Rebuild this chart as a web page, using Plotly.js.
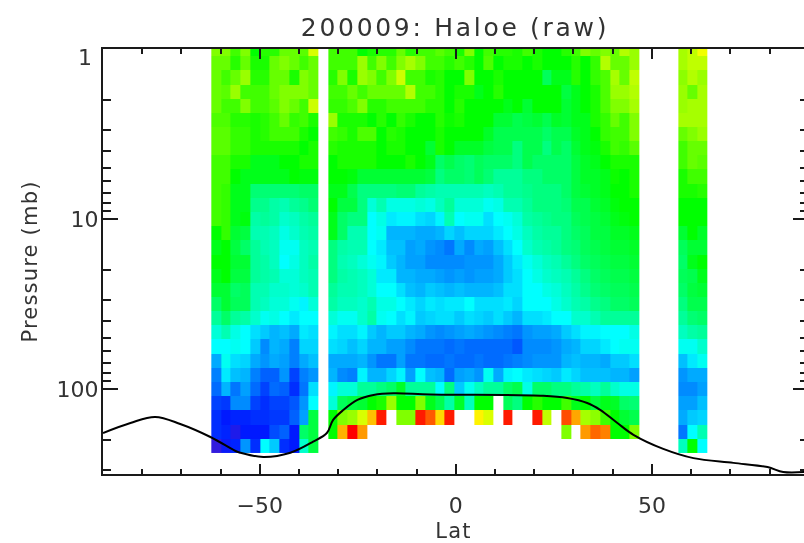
<!DOCTYPE html>
<html><head><meta charset="utf-8">
<script src="https://cdn.plot.ly/plotly-3.0.1.min.js"></script>
<style>html,body{margin:0;padding:0;background:#fff;overflow:hidden}#plot{width:804px;height:543px;filter:blur(0.55px)}
.gtitle{letter-spacing:2.7px}.xtitle,.ytitle{letter-spacing:1.2px}</style>
</head><body><div id="plot"></div>
<script>
// latitude of each column centre (degrees)
var lats = [-61.13,-58.65,-56.17,-53.69,-51.21,-48.73,-46.25,-43.77,-41.29,-38.81,-36.33,-33.85,-31.37,-28.89,-26.41,-23.93,-21.45,-18.97,-16.49,-14.01,-11.53,-9.05,-6.57,-4.09,-1.61,0.87,3.35,5.83,8.31,10.79,13.27,15.75,18.23,20.71,23.19,25.67,28.15,30.63,33.11,35.59,38.07,40.55,43.03,45.51,47.99,50.47,52.95,55.43,57.91,60.39,62.87];
// pressure level of each row (mb)
var levels = [1,1.21,1.47,1.78,2.15,2.61,3.16,3.83,4.64,5.62,6.81,8.25,10,12.1,14.7,17.8,21.5,26.1,31.6,38.3,46.4,56.2,68.1,82.5,100,121,147,178,215];
// colour value of each cell, south block (columns 0-10)
var south = [
[60,60,55,60,50,53,53,58,58,57,67],
[58,58,53,58,52,52,58,60,58,55,58],
[58,55,58,62,53,53,58,58,52,60,58],
[58,57,62,55,55,55,58,60,60,60,58],
[58,55,55,60,55,55,57,60,58,55,66],
[56,56,53,53,52,53,55,58,54,55,52],
[57,57,54,54,52,53,55,55,55,52,50],
[57,57,54,54,52,52,52,52,52,50,52],
[55,55,52,52,48,48,48,50,50,52,52],
[55,55,50,48,48,48,48,48,50,49,49],
[55,54,48,48,41,41,41,41,41,42,42],
[55,54,48,48,39,39,37,36,38,39,41],
[55,54,48,49,37,38,37,34,35,37,38],
[50,54,46,45,36,36,35,32,34,36,37],
[48,50,45,42,38,36,35,31,31,35,36],
[50,50,46,46,38,37,35,30,32,35,37],
[48,50,45,45,38,37,36,33,33,35,36],
[46,46,42,43,36,36,34,34,33,34,36],
[42,46,43,43,36,35,33,33,31,29,33],
[38,42,38,37,34,31,32,30,28,30,30],
[33,36,32,30,27,25,23,24,22,28,27],
[30,30,31,30,25,19,23,22,18,26,26],
[22,31,27,26,22,20,22,21,18,22,24],
[18,28,24,23,18,15,15,20,12,18,20],
[16,23,17,21,16,12,16,15,10,17,27],
[12,11,19,19,12,10,12,12,14,20,30],
[10,8,9,9,10,10,11,11,15,21,45],
[10,9,5,8,8,8,13,15,8,42,45],
[3,7,9,20,10,30,25,10,8,34,45]];
// tropics block, western half (columns 12-22)
var midWest = [
[55,55,55,50,52,53,53,58,53,55,55],
[55,55,55,62,55,60,55,60,63,60,55],
[53,60,52,62,60,55,60,66,55,55,52],
[55,55,58,55,58,58,58,58,64,55,55],
[54,54,56,60,53,53,55,55,55,55,53],
[62,52,52,52,50,53,50,54,52,50,50],
[55,54,52,56,56,50,53,52,50,50,50],
[53,52,52,52,52,50,52,52,50,50,46],
[50,52,52,52,52,50,50,50,52,50,48],
[50,50,49,46,46,46,46,46,46,46,45],
[48,48,44,40,40,40,40,41,41,38,37],
[50,45,45,40,33,36,32,32,32,33,32],
[48,42,40,40,30,32,28,29,29,27,26],
[48,42,36,36,30,31,23,23,23,22,22],
[40,37,36,36,30,28,24,24,21,22,20],
[40,36,35,33,31,29,25,23,21,21,19],
[40,37,36,35,33,28,28,23,23,22,22],
[38,36,36,35,33,30,30,27,24,23,25],
[37,35,35,34,36,32,32,30,28,26,28],
[33,31,31,34,37,31,30,27,29,25,26],
[29,27,27,29,25,23,25,25,23,22,20],
[27,26,24,26,23,23,21,21,19,17,17],
[22,22,22,23,20,17,17,21,17,17,16],
[23,19,18,29,23,23,26,29,21,30,24],
[29,33,33,38,38,40,42,47,38,38,38],
[33,43,45,46,50,52,62,50,50,60,48],
[50,60,62,67,75,88,null,60,60,88,83],
[50,76,90,78,null,null,null,null,null,null,null],
[null,null,null,null,null,null,null,null,null,null,null]];
// tropics block, eastern half (columns 23-43)
var midEast = [
[57,55,52,60,50,55,53,53,52,55,52,50,50,53,55,60,58,60,58,64,62],
[55,53,55,53,50,56,50,52,52,50,52,50,50,50,53,50,54,64,58,58,62],
[53,50,50,60,50,50,52,50,50,50,50,43,48,48,53,50,54,56,63,58,65],
[53,50,52,52,48,50,53,50,50,50,50,50,50,45,48,50,52,56,62,62,64],
[53,50,53,50,50,50,50,48,50,46,50,50,50,46,48,50,52,56,60,60,63],
[53,51,52,50,50,50,46,46,44,45,46,44,47,46,48,48,52,54,58,55,60],
[52,50,50,50,50,47,44,44,44,44,44,42,44,44,47,48,50,54,55,55,60],
[52,50,47,47,47,45,44,44,40,44,44,40,44,42,46,48,49,52,55,54,57],
[42,44,42,41,43,42,42,42,40,44,42,42,42,42,45,47,48,50,52,52,52],
[40,42,42,41,43,41,38,38,38,40,40,42,42,42,45,47,47,48,51,50,52],
[36,36,36,36,36,35,36,38,38,39,40,40,40,42,45,46,47,48,50,50,52],
[35,38,33,33,33,31,32,36,36,38,40,40,40,41,44,44,46,47,49,50,50],
[29,36,30,31,31,27,30,31,33,37,38,39,40,40,43,44,45,46,48,49,50],
[23,26,24,26,26,26,28,30,32,35,37,38,38,40,42,43,45,45,47,47,48],
[19,17,22,19,22,21,24,27,30,34,36,37,38,40,41,43,44,45,46,46,47],
[19,19,19,20,20,20,22,25,28,31,33,35,36,38,40,42,43,44,45,45,46],
[21,20,21,20,21,21,22,25,27,30,32,34,35,36,38,40,42,43,44,44,45],
[24,23,24,23,23,23,24,27,27,30,30,32,33,35,37,39,41,42,43,43,44],
[27,28,28,30,27,27,27,28,26,30,30,30,32,34,36,37,39,40,42,42,43],
[27,27,25,27,26,25,27,25,23,27,27,28,30,30,34,34,36,38,38,38,38],
[19,20,21,22,21,20,19,18,17,20,21,21,22,25,27,29,29,30,30,30,32],
[17,16,17,16,16,16,16,16,14,19,19,19,20,22,23,26,26,28,30,31,31],
[16,17,16,16,17,16,16,17,18,19,20,20,20,23,24,23,23,22,25,25,27],
[23,16,21,22,20,31,22,29,30,28,27,26,25,28,26,24,24,24,23,23,21],
[30,40,25,31,35,38,38,42,44,32,42,42,40,40,38,37,35,38,34,32,32],
[44,37,47,35,50,50,null,43,40,50,53,50,50,55,48,50,45,48,47,42,41],
[73,88,null,null,71,67,null,88,null,null,88,65,null,84,77,63,61,55,50,46,44],
[null,null,null,null,null,null,null,null,null,null,null,null,null,60,null,78,82,80,50,50,60],
[null,null,null,null,null,null,null,null,null,null,null,null,null,null,null,null,null,null,null,null,null]];
// north block (columns 48-50)
var north = [
[63,65,69],[63,65,65],[61,64,62],[62,58,63],[62,63,63],[63,63,63],[58,60,62],[55,58,58],[55,58,57],[52,55,55],
[52,52,53],[50,50,50],[50,50,50],[46,50,47],[43,46,46],[42,48,50],[43,44,48],[42,45,46],[40,44,44],[38,41,42],
[35,37,38],[31,31,34],[24,28,31],[20,22,22],[19,19,21],[21,21,24],[22,25,26],[17,30,36],[35,50,30]];
// surface / tropopause curve
var curveLat = [-90,-83,-76.7,-70.3,-62.6,-56.2,-55,-49.1,-42.2,-36.4,-32.9,-31.3,-28.7,-25.1,-21,-15.9,-6.5,22.3,28.4,33.5,36.9,41.2,45.3,52.9,60.6,70.8,79.5,83.5,88.9];
var curveP = [181.5,158.5,146,160.6,191.6,231.6,237,251,237,204,181.5,152,133,116,108.5,106,107.7,109.6,113,120.8,133,158.5,186,225,255,272,288,308,308];
var tickVals = [1,10,100];
var tickText = ['','10','100'];
var topLabel = '1';
var xTicks = [-50,0,50];
var titleText = '200009: Haloe (raw)';

var z = levels.map(function(_, i){
  return south[i].concat([null], midWest[i], midEast[i], [null,null,null,null], north[i]);
});
var rainbow = [[0,'rgb(80,30,200)'],[0.089,'rgb(0,25,255)'],[0.2,'rgb(0,128,255)'],[0.333,'rgb(0,255,255)'],[0.444,'rgb(0,255,128)'],[0.556,'rgb(0,255,0)'],[0.667,'rgb(128,255,0)'],[0.778,'rgb(255,255,0)'],[0.889,'rgb(255,128,0)'],[1,'rgb(255,0,0)']];
var ink = '#1a1a1a', font = 'DejaVu Sans', textColor = '#333';
var traces = [
 {type:'heatmap',x:lats,y:levels,z:z,zmin:0,zmax:90,colorscale:rainbow,showscale:false,zsmooth:false,hoverongaps:false},
 {type:'scatter',mode:'lines',x:curveLat,y:curveP,line:{color:'#000',width:2,shape:'spline',smoothing:1},hoverinfo:'skip'},
 {type:'scatter',mode:'lines',x:[null],y:[null],yaxis:'y2',hoverinfo:'skip'}
];
var layout = {
 width:804,height:543,paper_bgcolor:'#fff',plot_bgcolor:'#fff',showlegend:false,
 margin:{l:103,r:0,t:49,b:69},
 font:{family:font,color:textColor},
 title:{text:titleText,x:455/804,xanchor:'center',y:0.95,yanchor:'middle',font:{family:font,size:25,color:textColor}},
 annotations:[{text:topLabel,xref:'paper',yref:'paper',x:-0.0128,y:0.981,xanchor:'right',yanchor:'middle',showarrow:false,font:{family:font,size:22,color:textColor}}],
 xaxis:{range:[-90,88.8],type:'linear',showgrid:false,zeroline:false,showline:true,linecolor:ink,linewidth:2,mirror:'ticks',
   tickmode:'array',tickvals:xTicks,ticks:'inside',ticklen:10,tickwidth:1.6,tickcolor:ink,ticklabelstandoff:11,
   tickfont:{family:font,size:22,color:textColor},
   minor:{dtick:10,tick0:0,ticks:'inside',ticklen:5,tickwidth:1.6,tickcolor:ink,showgrid:false},
   title:{text:'Lat',standoff:9,font:{family:font,size:21,color:textColor}}},
 yaxis:{type:'log',range:[2.5,0],showgrid:false,zeroline:false,showline:true,linecolor:ink,linewidth:2,
   tickmode:'array',tickvals:tickVals,ticktext:tickText,ticks:'inside',ticklen:15,tickwidth:1.6,tickcolor:ink,ticklabelstandoff:-2,
   tickfont:{family:font,size:22,color:textColor},
   minor:{dtick:'D1',ticks:'inside',ticklen:8,tickwidth:1.6,tickcolor:ink,showgrid:false},
   title:{text:'Pressure (mb)',standoff:13,font:{family:font,size:21,color:textColor}}},
 yaxis2:{type:'log',range:[2.5,0],overlaying:'y',side:'right',showgrid:false,zeroline:false,showline:false,showticklabels:false,
   tickmode:'array',tickvals:tickVals,ticks:'inside',ticklen:11,tickwidth:1.6,tickcolor:ink,
   minor:{dtick:'D1',ticks:'inside',ticklen:4,tickwidth:1.6,tickcolor:ink,showgrid:false}}
};
Plotly.newPlot('plot',traces,layout,{displayModeBar:false,responsive:false});
</script></body></html>
